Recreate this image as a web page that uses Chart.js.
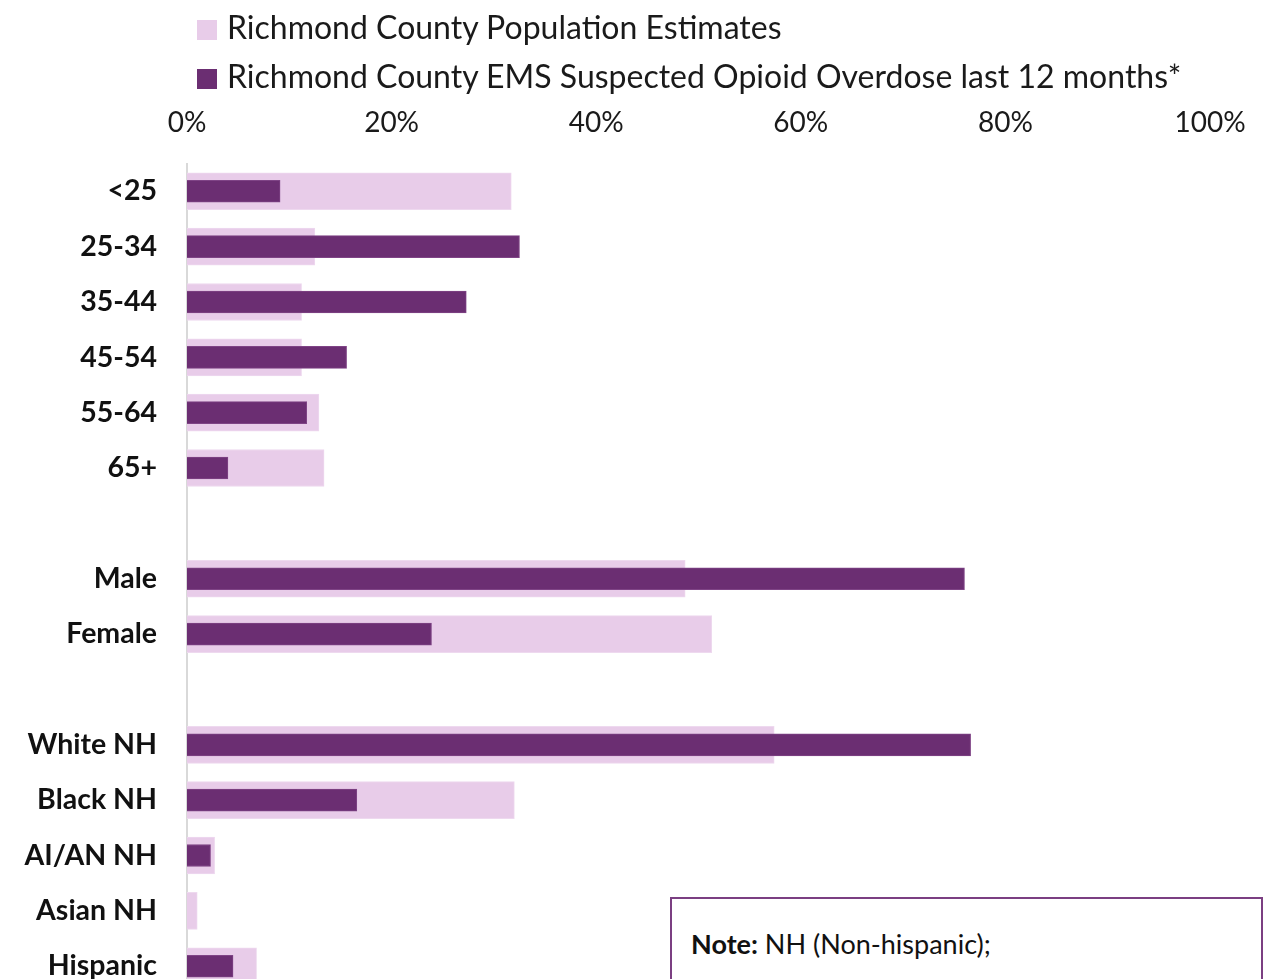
<!DOCTYPE html>
<html>
<head>
<meta charset="utf-8">
<script src="https://cdn.jsdelivr.net/npm/chart.js@4"></script>
<style>
  html, body { margin: 0; padding: 0; background: #fff; overflow: hidden; }
  #wrap { position: relative; width: 1278px; height: 979px; overflow: hidden; }
  #chart { position: absolute; left: 0; top: 0; }
  #legend { position: absolute; left: 197px; top: 9px; font-family: Lato, sans-serif; font-size: 32px; color: #1a1a1a; }
  #legend div { height: 36px; line-height: 36px; margin-bottom: 13px; white-space: nowrap; }
  #legend span.box { display: inline-block; width: 20px; height: 20px; margin-right: 10px; vertical-align: -1px; }
  #note { position: absolute; left: 670px; top: 897px; width: 593px; height: 120px; border: 2px solid #7b3f82; background: #fff;
          font-family: Lato, sans-serif; font-size: 27px; color: #111; box-sizing: border-box; padding: 28px 0 0 19px; }
</style>
</head>
<body>
<div id="wrap">
  <canvas id="chart"></canvas>
  <div id="legend"></div>
  <div id="note"><b>Note:</b> NH (Non-hispanic);</div>
</div>
<script>
// categories (blank rows separate age / sex / race groups)
var categories = ["<25", "25-34", "35-44", "45-54", "55-64", "65+", "", "Male", "Female", "", "White NH", "Black NH", "AI/AN NH", "Asian NH", "Hispanic"];

// percent of population
var populationData = [31.7, 12.5, 11.2, 11.2, 12.9, 13.4, null, 48.7, 51.3, null, 57.4, 32.0, 2.7, 1.0, 6.8];
// percent of EMS suspected opioid overdoses
var overdoseData = [9.1, 32.5, 27.3, 15.6, 11.7, 4.0, null, 76.0, 23.9, null, 76.6, 16.6, 2.3, 0, 4.5];

var tickValues = [0, 20, 40, 60, 80, 100];

var popLabel = "Richmond County Population Estimates";
var odLabel = "Richmond County EMS Suspected Opioid Overdose last 12 months*";
var popColor = "#e8cce9";
var odColor = "#6b2e72";

// canvas runs past the bottom of the page, the last rows are cut like the original
var canvas = document.getElementById("chart");
canvas.width = 1278;
canvas.height = 1041;
canvas.style.width = "1278px";
canvas.style.height = "1041px";

var myChart = new Chart(canvas, {
  type: "bar",
  data: {
    labels: categories,
    datasets: [
      {
        label: odLabel,
        data: overdoseData,
        backgroundColor: odColor,
        borderColor: "#7f4486",
        borderWidth: 1,
        barThickness: 22,
        grouped: false
      },
      {
        label: popLabel,
        data: populationData,
        backgroundColor: popColor,
        borderColor: "#eed9ef",
        borderWidth: 1,
        barThickness: 37,
        grouped: false
      }
    ]
  },
  options: {
    responsive: false,
    animation: false,
    indexAxis: "y",
    layout: { padding: { top: 82, right: 68, bottom: 0, left: 0 } },
    plugins: {
      legend: { display: false },
      tooltip: { enabled: false }
    },
    scales: {
      x: {
        position: "top",
        min: 0,
        max: 100,
        afterBuildTicks: function (s) {
          s.ticks = tickValues.map(function (v) { return { value: v }; });
        },
        ticks: {
          callback: function (v) { return v + "%"; },
          font: { family: "Lato", size: 28 },
          color: "#1a1a1a",
          padding: 24,
          maxRotation: 0
        },
        grid: { display: false, drawTicks: false },
        border: { display: false }
      },
      y: {
        afterFit: function (s) { s.width = 187; },
        ticks: {
          font: { family: "Lato", size: 28.5, weight: "bold" },
          color: "#111",
          padding: 30,
          autoSkip: false
        },
        grid: { display: false, drawTicks: false },
        border: { display: true, color: "#d9d9d9", width: 2 }
      }
    }
  }
});

// legend, same order as the original (population first)
var legend = document.getElementById("legend");
[[popLabel, popColor], [odLabel, odColor]].forEach(function (item) {
  var row = document.createElement("div");
  row.innerHTML = '<span class="box" style="background:' + item[1] + '"></span>' + item[0];
  legend.appendChild(row);
});
</script>
</body>
</html>
